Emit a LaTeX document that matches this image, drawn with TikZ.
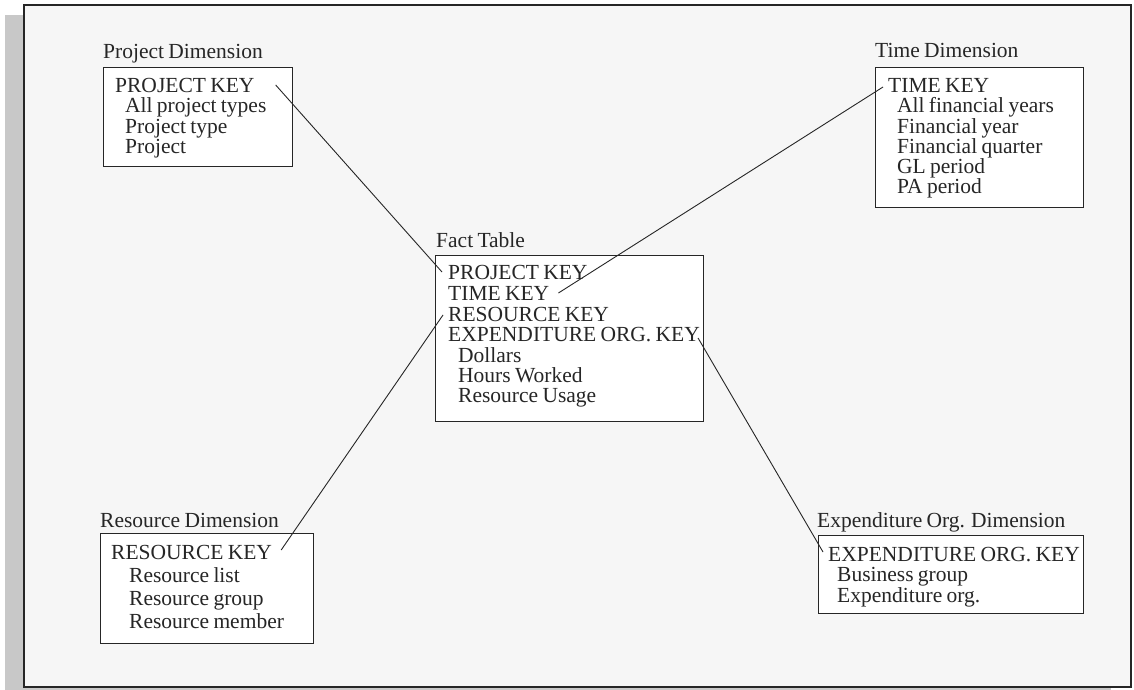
\documentclass[tikz,border=0pt]{standalone}
\usepackage{fontspec}
\setmainfont{Liberation Serif}[WordSpace=0.8]
\definecolor{framegray}{HTML}{F6F6F6}
\definecolor{shadowgray}{HTML}{C8C8C8}
\definecolor{inkgray}{HTML}{262626}
\begin{document}
\begin{tikzpicture}[x = 1pt, y = -1pt,
	tablebox/.style = {draw=inkgray, line width=1.3pt, fill=white, inner sep=0pt, anchor=north west},
	rowtext/.style = {anchor=base west, inner sep=0pt, text=inkgray, font=\fontsize{21.5}{21.5}\selectfont},
	keylink/.style = {draw=inkgray, line width=0.9pt}]
	\useasboundingbox (0, 0) rectangle (1134, 690);
	
	% Frame with shadow
	\fill[shadowgray] (5, 15) rectangle (1111, 700);
	\draw[fill=framegray, draw=inkgray, line width=2.2pt] (24, 5) rectangle (1131, 687);
	
	% Project dimension
	\node[rowtext] (plabel) at (103, 59) {Project Dimension};
	\node[tablebox, minimum width=189pt, minimum height=99pt] (pbox) at (103, 67) {};
	\node[rowtext] (pkey) at (115, 93) {PROJECT KEY};
	\node[rowtext] (p1) at (125, 113) {All project types};
	\node[rowtext] (p2) at (125, 133) {Project type};
	\node[rowtext] (p3) at (125, 153) {Project};
	
	% Time dimension
	\node[rowtext] (tlabel) at (875, 58) {Time Dimension};
	\node[tablebox, minimum width=208pt, minimum height=140pt] (tbox) at (875, 67) {};
	\node[rowtext] (tkey) at (888, 93) {TIME KEY};
	\node[rowtext] (t1) at (897, 113) {All financial years};
	\node[rowtext] (t2) at (897, 133) {Financial year};
	\node[rowtext] (t3) at (897, 153) {Financial quarter};
	\node[rowtext] (t4) at (897, 173) {GL period};
	\node[rowtext] (t5) at (897, 193) {PA period};
	
	% Fact table
	\node[rowtext] (flabel) at (436, 247) {Fact Table};
	\node[tablebox, minimum width=268pt, minimum height=166pt] (fbox) at (435, 255) {};
	\node[rowtext] (fpkey) at (448, 279) {PROJECT KEY};
	\node[rowtext] (ftkey) at (448, 300) {TIME KEY};
	\node[rowtext] (frkey) at (448, 321) {RESOURCE KEY};
	\node[rowtext] (fekey) at (448, 341) {EXPENDITURE ORG. KEY};
	\node[rowtext] (f1) at (458, 362) {Dollars};
	\node[rowtext] (f2) at (458, 382) {Hours Worked};
	\node[rowtext] (f3) at (458, 402) {Resource Usage};
	
	% Resource dimension
	\node[rowtext] (rlabel) at (100, 527) {Resource Dimension};
	\node[tablebox, minimum width=213pt, minimum height=110pt] (rbox) at (100, 533) {};
	\node[rowtext] (rkey) at (111, 559) {RESOURCE KEY};
	\node[rowtext] (r1) at (129, 582) {Resource list};
	\node[rowtext] (r2) at (129, 605) {Resource group};
	\node[rowtext] (r3) at (129, 628) {Resource member};
	
	% Expenditure org. dimension
	\node[rowtext] (elabel) at (817, 527) {Expenditure Org. Dimension};
	\node[tablebox, minimum width=265pt, minimum height=78pt] (ebox) at (818, 535) {};
	\node[rowtext] (ekey) at (828, 561) {EXPENDITURE ORG. KEY};
	\node[rowtext] (e1) at (837, 581) {Business group};
	\node[rowtext] (e2) at (837, 602) {Expenditure org.};
	
	% Key links
	\draw[keylink] ([shift={(21pt,8pt)}]pkey.base east) -- ([shift={(-6pt,7pt)}]fpkey.base west);
	\draw[keylink] ([shift={(9pt,7pt)}]ftkey.base east) -- ([shift={(-5pt,6pt)}]tkey.base west);
	\draw[keylink] ([shift={(-5pt,6pt)}]frkey.base west) -- ([shift={(9pt,9pt)}]rkey.base east);
	\draw[keylink] ([shift={(-2pt,3pt)}]fekey.base east) -- ([shift={(-5pt,9pt)}]ekey.base west);
\end{tikzpicture}
\end{document}
